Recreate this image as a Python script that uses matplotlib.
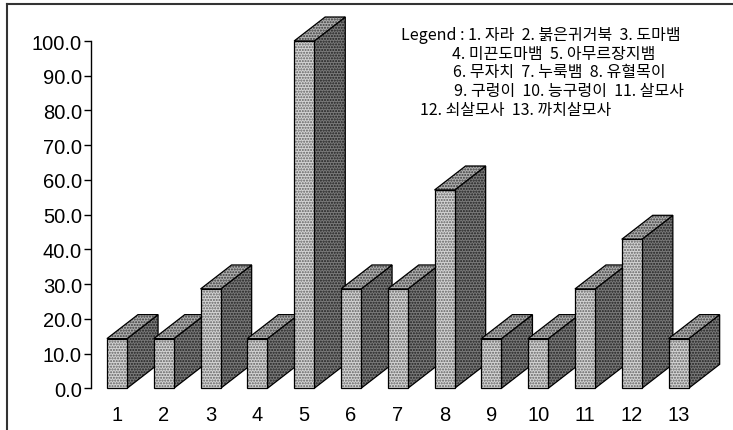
import matplotlib
matplotlib.use('Agg')
import matplotlib.pyplot as plt
from matplotlib.patches import Polygon
from matplotlib.lines import Line2D

# 종별 출현 비율 (%)
species = ['1', '2', '3', '4', '5', '6', '7', '8', '9', '10', '11', '12', '13']
values = [14.3, 14.3, 28.6, 14.3, 100.0, 28.6, 28.6, 57.1, 14.3, 14.3, 28.6, 42.9, 14.3]
yticks = [0, 10, 20, 30, 40, 50, 60, 70, 80, 90, 100]
legend_lines = [
    'Legend : 1. 자라  2. 붉은귀거북  3. 도마뱀',
    '4. 미끈도마뱀  5. 아무르장지뱀',
    '6. 무자치  7. 누룩뱀  8. 유혈목이',
    '9. 구렁이  10. 능구렁이  11. 살모사',
    '12. 쇠살모사  13. 까치살모사',
]
legend_x = [401, 452, 453, 454, 420]

W, H = 733, 431
fig = plt.figure(figsize=(W / 100, H / 100), dpi=100)
fig.patch.set_facecolor('white')

# 축 위치 (픽셀 기준)
px_left, px_right = 91, 727
px_zero, px_top = 389.3, 8
unit_x = 46.8            # 막대 간격(px)
unit_y = 3.473           # 1% 당 px
first_x = 117

ax = fig.add_axes([px_left / W, (H - px_zero) / H,
                   (px_right - px_left) / W, (px_zero - px_top) / H])
ax.set_xlim(1 - (first_x - px_left) / unit_x, 1 + (px_right - first_x) / unit_x)
ax.set_ylim(0, (px_zero - px_top) / unit_y)

# 3차원 막대 모양
half = 0.215
dx = 31 / unit_x
dy = 24 / unit_y

for i, v in enumerate(values):
    x = i + 1
    x0, x1 = x - half, x + half
    front = [(x0, 0), (x1, 0), (x1, v), (x0, v)]
    side = [(x1, 0), (x1 + dx, dy), (x1 + dx, v + dy), (x1, v)]
    top = [(x0, v), (x1, v), (x1 + dx, v + dy), (x0 + dx, v + dy)]
    for pts, fc, hc, ht in [(side, '#7a7a7a', '#1e1e1e', '......'),
                            (top, '#b0b0b0', '#383838', '......'),
                            (front, '#d4d4d4', '#606060', '......')]:
        ax.add_patch(Polygon(pts, closed=True, facecolor=fc, edgecolor=hc,
                             hatch=ht, linewidth=0, clip_on=False, zorder=2 + i))
        ax.add_patch(Polygon(pts, closed=True, fill=False, edgecolor='black',
                             linewidth=0.9, clip_on=False, zorder=2 + i))

for s in ['top', 'right', 'bottom']:
    ax.spines[s].set_visible(False)
ax.spines['left'].set_bounds(0, 100)
ax.spines['left'].set_linewidth(1.0)

ax.set_yticks(yticks)
ax.set_yticklabels(['%.1f' % t for t in yticks], fontfamily='Liberation Sans',
                   fontsize=14.5)
ax.tick_params(axis='y', direction='out', length=5, width=1, pad=1.5)
ax.set_xticks(range(1, len(species) + 1))
ax.set_xticklabels(species, fontfamily='Liberation Sans', fontsize=14.5)
ax.tick_params(axis='x', length=0, pad=12)

# 범례 글
for k, line in enumerate(legend_lines):
    fig.text(legend_x[k] / W, 1 - (35 + 19 * k) / H, line,
             family=['Noto Sans CJK KR', 'DejaVu Sans'], fontsize=11.5,
             ha='left', va='center')

# 바깥 테두리
fig.add_artist(Line2D([7 / W, 1], [1 - 5 / H, 1 - 5 / H], color='#333333',
                      linewidth=1.5, transform=fig.transFigure))
fig.add_artist(Line2D([7 / W, 7 / W], [1 - 5 / H, 0], color='#333333',
                      linewidth=1.5, transform=fig.transFigure))

fig.savefig('out.png', dpi=100)
